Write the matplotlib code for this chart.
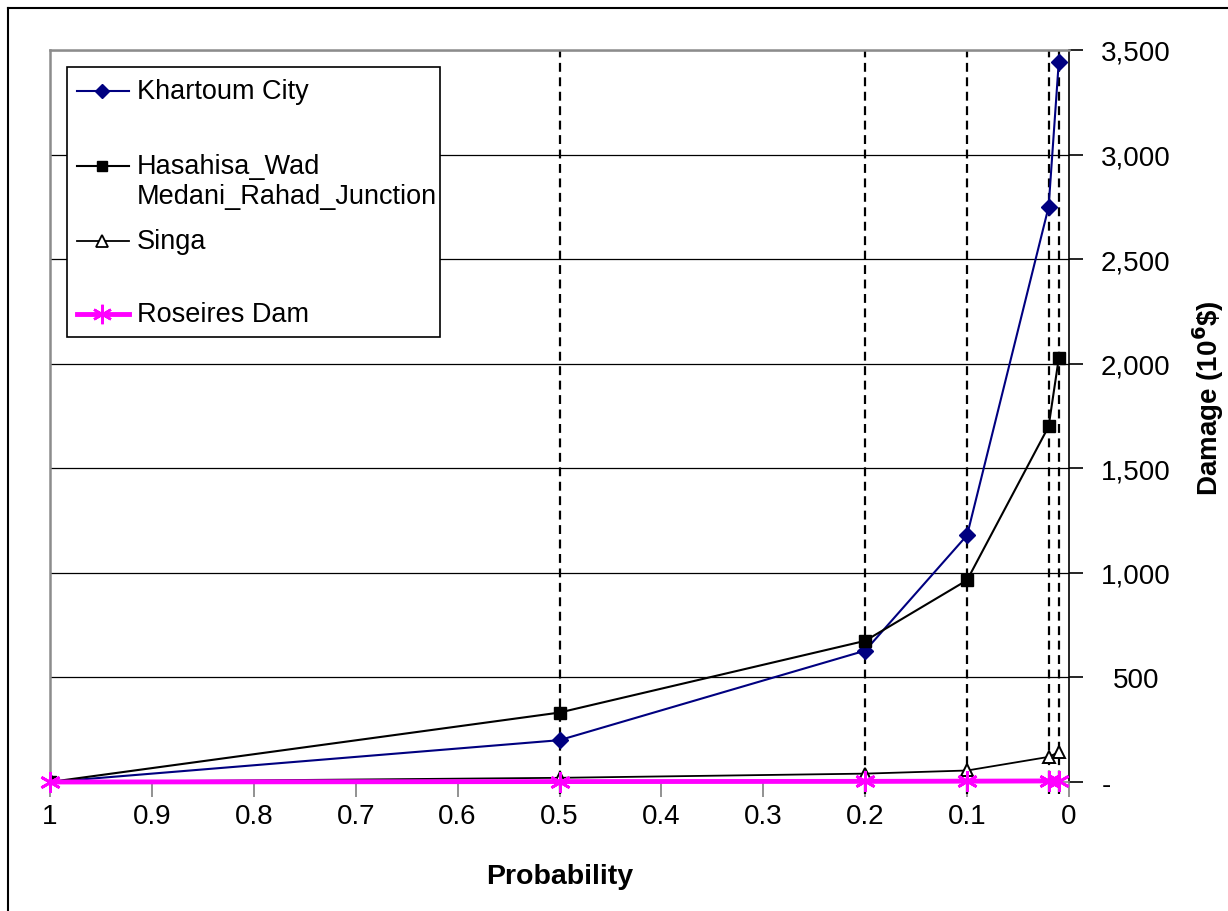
import matplotlib
matplotlib.use("Agg")
import matplotlib.pyplot as plt
import matplotlib.transforms as mtransforms
from matplotlib.lines import Line2D
from matplotlib.patches import Rectangle
from matplotlib.ticker import FuncFormatter

plt.rcParams['font.family'] = ['Liberation Sans', 'DejaVu Sans']

# Exceedance probabilities (return periods 1, 2, 5, 10, 50, 100 years)
probability = [1.0, 0.5, 0.2, 0.1, 0.02, 0.01]

# Flood damage per reach, million $
khartoum = [0, 200, 628, 1180, 2750, 3445]
hasahisa = [0, 332, 675, 965, 1700, 2027]
singa = [0, 20, 40, 55, 120, 143]
roseires = [0, 2, 3, 4, 5, 6]

x_ticks = [1, 0.9, 0.8, 0.7, 0.6, 0.5, 0.4, 0.3, 0.2, 0.1, 0]
y_ticks = [0, 500, 1000, 1500, 2000, 2500, 3000, 3500]

W, H = 1228, 912
fig = plt.figure(figsize=(W / 100, H / 100), dpi=100)


def fx(px):
    return px / W


def fy(py):
    return 1 - py / H


# outer chart frame (top and left edges)
fig.add_artist(Line2D([fx(8), fx(8)], [0, fy(9)], color='black', lw=1.5))
fig.add_artist(Line2D([fx(8), 1], [fy(9), fy(9)], color='black', lw=1.5))

left, right, top, bottom = 50, 1069, 51, 783
ax = fig.add_axes([fx(left), fy(bottom), (right - left) / W, (bottom - top) / H])

ax.set_xlim(1, 0)
ax.set_ylim(0, 3500)

# horizontal gridlines
for y in y_ticks[1:]:
    ax.axhline(y, color='black', lw=0.9, zorder=1)

# dashed drop lines at each probability
for p in probability[1:]:
    ax.plot([p, p], [-55, 3500], color='black', lw=1.6, ls=(0, (4, 2.5)),
            clip_on=False, zorder=2)

ax.plot(probability, khartoum, color='#000080', lw=1.5, marker='D', ms=8,
        mfc='#000080', mec='#000080', zorder=5)
ax.plot(probability, hasahisa, color='black', lw=1.5, marker='s', ms=8.5,
        mfc='black', mec='black', zorder=5)
ax.plot(probability, singa, color='black', lw=1.3, marker='^', ms=9,
        mfc='white', mec='black', mew=1.4, zorder=5)
ax.plot(probability, roseires, color='#FF00FF', lw=3.5, marker=(6, 2, 0), ms=15,
        mec='#FF00FF', mew=2, zorder=6, clip_on=False)

# spines
for s in ['top', 'left']:
    ax.spines[s].set_color('#8c8c8c')
    ax.spines[s].set_linewidth(1.8)
ax.spines['bottom'].set_color('#8c8c8c')
ax.spines['bottom'].set_linewidth(1.2)
ax.spines['right'].set_color('black')
ax.spines['right'].set_linewidth(1.2)

ax.yaxis.tick_right()
ax.set_yticks(y_ticks)
ax.yaxis.set_major_formatter(FuncFormatter(lambda v, _: '-' if v == 0 else f'{int(v):,}'))
ax.tick_params(axis='y', direction='out', length=10, width=1.2, color='black',
               labelsize=20, pad=0)
for lbl in ax.get_yticklabels():
    lbl.set_horizontalalignment('center')
fig.canvas.draw()
label_shift = mtransforms.ScaledTranslation(53 / 100, 0, fig.dpi_scale_trans)
dash_shift = mtransforms.ScaledTranslation(23 / 100, 0, fig.dpi_scale_trans)
for lbl in ax.get_yticklabels():
    if lbl.get_text() == '-':
        lbl.set_transform(lbl.get_transform() + dash_shift)
    else:
        lbl.set_transform(lbl.get_transform() + label_shift)

ax.set_xticks(x_ticks)
ax.set_xticklabels([f'{t:g}' for t in x_ticks])
ax.tick_params(axis='x', direction='out', length=11, width=1.2, color='#7f7f7f',
               labelsize=20, pad=4)

# axis titles
fig.text(fx(560), fy(877), 'Probability', fontsize=20.5, fontweight='bold',
         ha='center', va='center')
fig.text(fx(1208), fy(398), 'Damage (10$^{\\mathbf{6}}$\\$)', fontsize=20,
         fontweight='bold', rotation=90, ha='center', va='center')

# legend box
fig.add_artist(Rectangle((fx(67), fy(338)), fx(440) - fx(67), fy(68) - fy(338),
                         fill=True, facecolor='white', edgecolor='black', lw=1.2,
                         zorder=10))

entries = [
    (92, dict(color='#000080', lw=1.5, marker='D', ms=7, mfc='#000080', mec='#000080'),
     ['Khartoum City']),
    (167, dict(color='black', lw=1.5, marker='s', ms=7.5, mfc='black', mec='black'),
     ['Hasahisa_Wad', 'Medani_Rahad_Junction']),
    (242, dict(color='black', lw=1.3, marker='^', ms=8, mfc='white', mec='black', mew=1.3),
     ['Singa']),
    (315, dict(color='#FF00FF', lw=3.5, marker=(6, 2, 0), ms=14, mec='#FF00FF', mew=1.8),
     ['Roseires Dam']),
]
for py, style, lines in entries:
    line_style = {k: v for k, v in style.items() if not k.startswith('m')}
    fig.add_artist(Line2D([fx(77), fx(129)], [fy(py), fy(py)], zorder=11, **line_style))
    marker_style = {k: v for k, v in style.items() if k.startswith('m')}
    fig.add_artist(Line2D([fx(102)], [fy(py)], lw=0, zorder=12, **marker_style))
    for i, text in enumerate(lines):
        fig.text(fx(137), fy(py + 30 * i), text, fontsize=19.5, va='center',
                 ha='left', zorder=12)

fig.savefig('out.png', dpi=100, facecolor='white')
